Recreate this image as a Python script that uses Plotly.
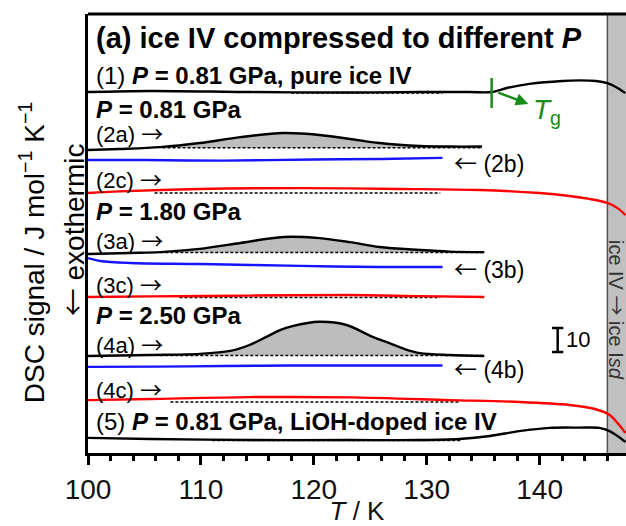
import plotly.graph_objects as go

# ---------------- data (T in K, DSC signal incl. vertical offsets, J mol^-1 K^-1) -------------
T1 = [100, 105.5, 114.3, 123.2, 129.4, 133.8, 135.75, 137.1, 139.1, 142.0, 143.5, 145.0, 146.0, 146.9, 147.6]
S1 = [133.7, 134.1, 133.7, 133.5, 133.7, 133.7, 133.7, 135.2, 136.7, 137.8, 138.0, 137.8, 137.0, 135.2, 133.3]
B1 = [118.0, 131.4]; B1_level = 133.3

T2a = [100, 102.8, 106.4, 109.9, 113.5, 117.3, 120.5, 123.2, 125.8, 129.4, 132.0, 134.9]
S2a = [112.2, 112.6, 113.3, 114.8, 117.0, 118.5, 117.8, 116.3, 114.8, 113.7, 113.5, 113.5]
B2a = [106.6, 134.9]; B2a_level = 113.1

T2b = [100, 105, 112, 120, 126, 131.4]
S2b = [108.5, 108.5, 108.3, 108.7, 108.9, 109.3]

T2c = [100, 102.8, 109.9, 118.8, 127.6, 134.7, 140.0, 142.65, 144.4, 146.0, 146.9, 147.6]
S2c = [96.3, 96.9, 97.8, 98.1, 97.8, 97.4, 96.3, 95.2, 94.1, 92.6, 90.7, 88.1]
B2c = [105.9, 131.2]; B2c_level = 96.3

T3a = [100, 103.7, 106.4, 109.9, 113.5, 117.3, 120.5, 123.2, 125.8, 129.4, 132.0, 135.1]
S3a = [73.7, 74.1, 74.4, 75.6, 77.8, 80.0, 79.6, 78.1, 76.3, 75.2, 74.6, 74.4]
B3a = [106.4, 135.1]; B3a_level = 74.3

T3b = [100, 101.1, 103.7, 109.9, 118.8, 125.8, 131.4]
S3b = [72.2, 71.1, 70.4, 70.0, 69.3, 68.9, 68.9]

T3c = [100, 105.5, 114.3, 123.2, 129.4, 135.1]
S3c = [57.8, 58.0, 58.3, 58.5, 58.1, 57.8]
B3c = [108.1, 131.2]; B3c_level = 57.6

T4a = [100, 105.5, 109.9, 112.6, 114.3, 115.8, 117.0, 118.1, 120.5, 122.9, 125.2, 126.7, 128.05, 129.4, 132.0, 135.1]
S4a = [35.9, 36.3, 36.7, 37.8, 40.0, 43.0, 45.5, 47.0, 48.6, 47.4, 43.0, 40.7, 38.5, 37.0, 36.3, 35.9]
B4a = [106.4, 135.1]; B4a_level = 36.1

T4b = [100, 106, 112, 118, 125, 131.4]
S4b = [31.9, 32.0, 32.2, 32.4, 32.4, 32.4]

T4c = [100, 105.5, 114.3, 123.2, 132.0, 138.2, 142.65, 144.9, 146.2, 146.9, 147.6]
S4c = [19.6, 20.0, 20.7, 20.6, 19.6, 18.9, 17.8, 16.3, 14.1, 11.1, 7.4]
B4c = [107.3, 132.9]; B4c_level = 18.9

T5 = [100, 105.5, 114.3, 123.2, 129.4, 132.9, 135.6, 138.2, 140.9, 143.5, 145.3, 146.2, 146.9, 147.6]
S5 = [5.6, 5.2, 4.8, 4.8, 4.8, 5.2, 6.3, 8.1, 9.3, 9.4, 9.3, 8.1, 6.3, 4.1]
B5 = [111.0, 133.0]; B5_level = 4.6

Tg_T = 135.75
Tg_range = [127.8, 138.9]
scale_T = 141.6
scale_range = [37.4, 46.3]   # 10 J mol^-1 K^-1 bar
band_T = [146.0, 147.65]
x_ticks = [100, 110, 120, 130, 140]

FONT = "Liberation Sans, Arial, sans-serif"
ARW = '<span style="font-family:Noto Sans CJK JP">{}</span>'
RARR = ARW.format("→")
LARR = ARW.format("←")
BLACK, BLUE, RED, GREEN = "#000000", "#1414ff", "#ff0000", "#178c17"
GRAYFILL = "#bdbdbd"

fig = go.Figure()

def add_curve(T, S, color, width=2.4):
    fig.add_trace(go.Scatter(x=T, y=S, mode="lines", line=dict(color=color, width=width, shape="spline", smoothing=0.9),
                             hoverinfo="skip", showlegend=False))

def add_fill(T, S, rng, level):
    xs = [t for t in T if rng[0] <= t <= rng[1]]
    ys = [s for t, s in zip(T, S) if rng[0] <= t <= rng[1]]
    fig.add_trace(go.Scatter(x=rng, y=[level, level], mode="lines", line=dict(width=0),
                             hoverinfo="skip", showlegend=False))
    fig.add_trace(go.Scatter(x=[rng[0]] + xs + [rng[1]], y=[level] + ys + [level], mode="lines",
                             line=dict(width=0, shape="spline", smoothing=0.9), fill="tonexty", fillcolor=GRAYFILL,
                             hoverinfo="skip", showlegend=False))

def add_base(rng, level):
    fig.add_trace(go.Scatter(x=rng, y=[level, level], mode="lines",
                             line=dict(color=BLACK, width=1.5, dash="3px,2px"),
                             hoverinfo="skip", showlegend=False))

# fills
add_fill(T2a, S2a, B2a, B2a_level)
add_fill(T3a, S3a, B3a, B3a_level)
add_fill(T4a, S4a, B4a, B4a_level)

# baselines
for rng, lev in [(B1, B1_level), (B2a, B2a_level), (B2c, B2c_level), (B3a, B3a_level),
                 (B3c, B3c_level), (B4a, B4a_level), (B4c, B4c_level), (B5, B5_level)]:
    add_base(rng, lev)

# curves
add_curve(T1, S1, BLACK)
add_curve(T2a, S2a, BLACK)
add_curve(T2b, S2b, BLUE)
add_curve(T2c, S2c, RED)
add_curve(T3a, S3a, BLACK)
add_curve(T3b, S3b, BLUE)
add_curve(T3c, S3c, RED)
add_curve(T4a, S4a, BLACK)
add_curve(T4b, S4b, BLUE)
add_curve(T4c, S4c, RED)
add_curve(T5, S5, BLACK)

# Tg marker
fig.add_trace(go.Scatter(x=[Tg_T, Tg_T], y=Tg_range, mode="lines", line=dict(color=GREEN, width=2.5),
                         hoverinfo="skip", showlegend=False))
# scale bar
fig.add_trace(go.Scatter(x=[scale_T, scale_T], y=scale_range, mode="lines", line=dict(color=BLACK, width=2.5),
                         hoverinfo="skip", showlegend=False))
for yv in scale_range:
    fig.add_trace(go.Scatter(x=[scale_T - 0.5, scale_T + 0.5], y=[yv, yv], mode="lines",
                             line=dict(color=BLACK, width=2.5), hoverinfo="skip", showlegend=False))

shapes = [
    dict(type="rect", xref="x", yref="paper", x0=band_T[0], x1=band_T[1], y0=0, y1=1,
         fillcolor="#c0c0c0", line=dict(width=0), layer="below"),
    dict(type="line", xref="x", yref="paper", x0=band_T[0], x1=band_T[0], y0=0, y1=1,
         line=dict(color="#555555", width=1.5), layer="below"),
    dict(type="line", xref="paper", yref="paper", x0=0, x1=1, y0=1, y1=1,
         line=dict(color=BLACK, width=3)),
]

ann = []
def label(x, y, text, size=23, anchor="left", color=BLACK):
    ann.append(dict(x=x, y=y, xref="x", yref="y", text=text, showarrow=False, xanchor=anchor,
                    yanchor="middle", font=dict(family=FONT, size=size, color=color)))

label(100.5, 153.7, "<b>(a) ice IV compressed to different <i>P</i></b>", size=29)
label(100.5, 140.0, "(1) <b><i>P</i> = 0.81 GPa, pure ice IV</b>", size=24)
label(100.5, 127.2, "<b><i>P</i> = 0.81 GPa</b>", size=24)
label(100.5, 119.0, "(2a) " + RARR, size=22)
label(132.2, 107.8, LARR + " (2b)", size=23)
label(100.5, 101.9, "(2c) " + RARR, size=22)
label(100.5, 89.5, "<b><i>P</i> = 1.80 GPa</b>", size=24)
label(100.5, 79.4, "(3a) " + RARR, size=22)
label(132.2, 68.5, LARR + " (3b)", size=23)
label(100.5, 63.0, "(3c) " + RARR, size=22)
label(100.5, 50.9, "<b><i>P</i> = 2.50 GPa</b>", size=24)
label(100.5, 40.9, "(4a) " + RARR, size=22)
label(132.2, 31.5, LARR + " (4b)", size=23)
label(100.5, 24.1, "(4c) " + RARR, size=22)
label(100.5, 11.5, "(5) <b><i>P</i> = 0.81 GPa, LiOH-doped ice IV</b>", size=24)
label(142.2, 41.9, "10", size=22)
label(139.2, 126.5, "<i>T</i><sub>g</sub>", size=28, color=GREEN)

# Tg arrow
ann.append(dict(x=139.0, y=129.3, ax=136.2, ay=133.7, xref="x", yref="y", axref="x", ayref="y",
                text="", showarrow=True, arrowhead=2, arrowsize=1, arrowwidth=2.5, arrowcolor=GREEN))

# band text
ann.append(dict(x=146.85, y=53.0, xref="x", yref="y", text="ice IV " + RARR + " ice I<i>sd</i>", textangle=90,
                xanchor="center", yanchor="middle",
                showarrow=False, font=dict(family=FONT, size=20, color="#333333")))

# y-axis titles
ann.append(dict(x=0, y=74.0, xref="paper", yref="y", xshift=-56, xanchor="center", yanchor="middle",
                text="DSC signal / J mol<sup>−1</sup> K<sup>−1</sup>",
                textangle=-90, showarrow=False, font=dict(family=FONT, size=28, color=BLACK)))
ann.append(dict(x=0, y=82.5, xref="paper", yref="y", xshift=-16, xanchor="center", yanchor="middle",
                text=LARR + " exothermic",
                textangle=-90, showarrow=False, font=dict(family=FONT, size=28, color=BLACK)))

fig.update_layout(
    width=626, height=526,
    margin=dict(l=88, r=0, t=14, b=73),
    paper_bgcolor="white", plot_bgcolor="white",
    shapes=shapes, annotations=ann,
    font=dict(family=FONT, color=BLACK),
    xaxis=dict(range=[100, 147.65], showgrid=False, zeroline=False, showline=True, linecolor=BLACK, linewidth=3,
               ticks="outside", ticklen=9, tickwidth=3, tickcolor=BLACK, tickvals=x_ticks,
               tickfont=dict(family=FONT, size=28, color="#111111"),
               minor=dict(dtick=2, tick0=100, ticks="outside", ticklen=5, tickwidth=2.5, tickcolor=BLACK),
               title=dict(text="<i>T</i> / K", font=dict(family=FONT, size=26, color="#111111"), standoff=4)),
    yaxis=dict(range=[0, 162.6], showgrid=False, zeroline=False, showline=True, linecolor=BLACK, linewidth=3,
               showticklabels=False, ticks=""),
)

fig.write_html("out.html")
